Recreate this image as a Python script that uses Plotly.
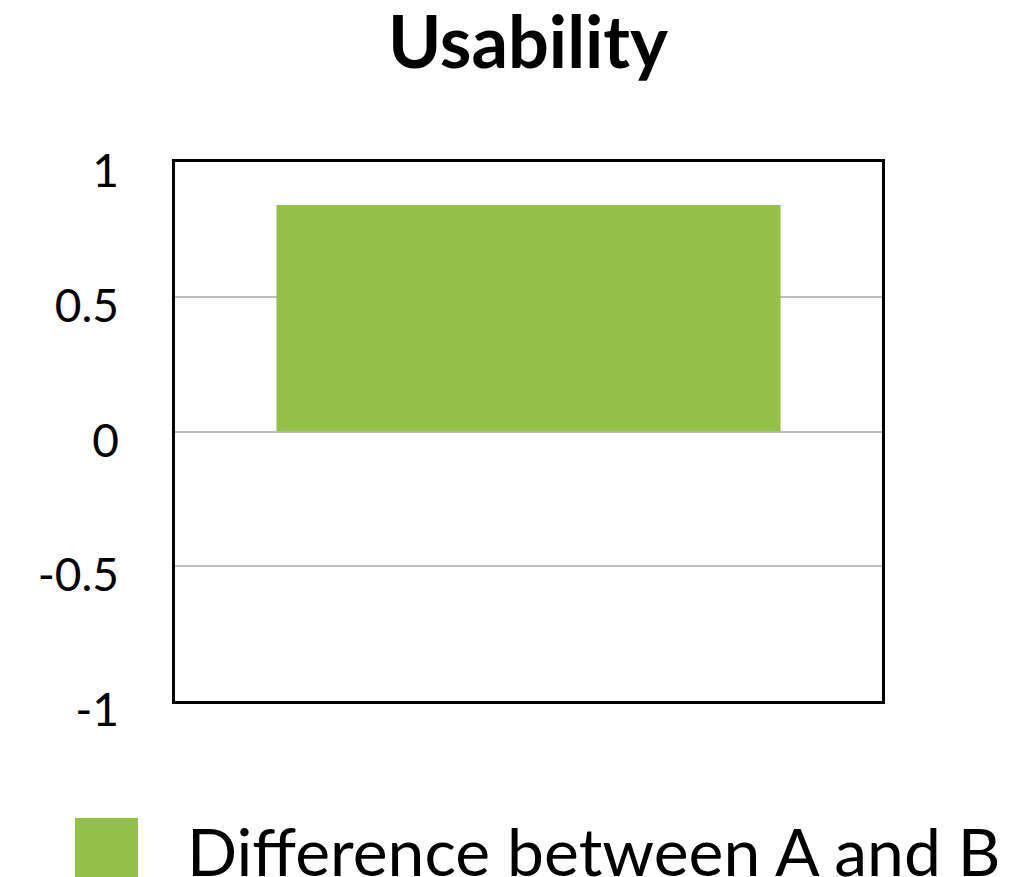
import plotly.graph_objects as go

categories = ["Usability"]
values = [0.84]
series_name = "Difference between A and B"
tick_vals = [-1, -0.5, 0, 0.5, 1]
tick_text = ["-1", "-0.5", "0", "0.5", "1"]

GREEN = "#94C147"

# page offset (browser body margin)
OFF = 8
W, H = 1015, 877
L, R, T, B = 175 - OFF, 882 - OFF, 162 - OFF, 701 - OFF  # plot area in figure px
PW, PH = R - L, B - T

def px(x):
    return (x - OFF - L) / PW

def py(y):
    return (B - (y - OFF)) / PH

fig = go.Figure()
fig.add_trace(go.Bar(x=categories, y=values, name=series_name,
                     marker=dict(color=GREEN, line=dict(width=0)),
                     showlegend=False))

fig.update_layout(
    width=W, height=H,
    margin=dict(l=L, r=W - R, t=T, b=H - B),
    paper_bgcolor="white", plot_bgcolor="white",
    bargap=0.287,
    title=dict(text="<b>Usability</b>", x=(528 - OFF) / W, xanchor="center",
               y=1 - (18 - OFF) / H, yanchor="top",
               font=dict(family="Lato", size=72, color="black")),
    font=dict(family="Lato", color="black"),
    xaxis=dict(showticklabels=False, showgrid=False, zeroline=False,
               showline=True, linecolor="black", linewidth=2.5, mirror=True, ticks=""),
    yaxis=dict(range=[-1, 1], tickvals=tick_vals, ticktext=tick_text,
               showgrid=True, gridcolor="#BFBFBF", gridwidth=2,
               zeroline=True, zerolinecolor="#BFBFBF", zerolinewidth=2,
               showline=True, linecolor="black", linewidth=2.5, mirror=True,
               ticks="", ticklabelstandoff=44, ticklabelshift=9,
               tickfont=dict(family="Lato", size=46, color="black")),
)

# legend drawn manually for large swatch
fig.add_shape(type="rect", xref="paper", yref="paper",
              x0=px(75), x1=px(138), y0=py(885), y1=py(818),
              fillcolor=GREEN, line=dict(width=0))
fig.add_annotation(text=series_name, xref="paper", yref="paper",
                   x=px(185), y=py(850), xanchor="left", yanchor="middle",
                   showarrow=False, font=dict(family="Lato", size=66, color="black"))

fig.write_html("out.html")
